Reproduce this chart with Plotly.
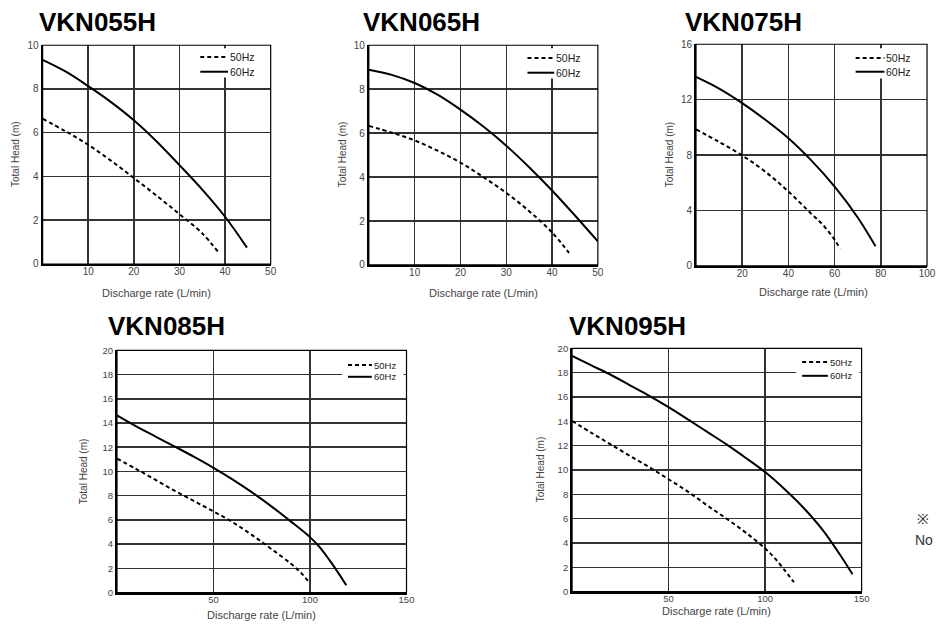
import plotly.graph_objects as go

W, H = 939, 630

# ---------------- data ----------------
models = ["VKN055H", "VKN065H", "VKN075H", "VKN085H", "VKN095H"]
series_names = ["50Hz", "60Hz"]

vkn055_q50 = [0, 5, 10, 15, 20, 25, 30, 35, 38.6]
vkn055_h50 = [6.64, 6.07, 5.45, 4.72, 3.93, 3.12, 2.28, 1.4, 0.52]
vkn055_q60 = [0, 5, 10, 15, 20, 25, 30, 35, 40, 44.8]
vkn055_h60 = [9.33, 8.8, 8.13, 7.4, 6.57, 5.6, 4.52, 3.4, 2.16, 0.75]

vkn065_q50 = [0, 5, 10, 15, 20, 25, 30, 35, 40, 43.7]
vkn065_h50 = [6.33, 6.02, 5.67, 5.2, 4.66, 4.0, 3.28, 2.45, 1.48, 0.55]
vkn065_q60 = [0, 5, 10, 15, 20, 25, 30, 35, 40, 45, 50]
vkn065_h60 = [8.88, 8.65, 8.28, 7.75, 7.07, 6.3, 5.43, 4.45, 3.39, 2.25, 1.07]

vkn075_q50 = [0, 10, 20, 30, 40, 50, 55, 60, 62.3]
vkn075_h50 = [9.86, 8.95, 7.97, 6.8, 5.37, 3.75, 2.95, 1.89, 1.25]
vkn075_q60 = [0, 10, 20, 30, 40, 50, 60, 70, 77.7]
vkn075_h60 = [13.64, 12.8, 11.75, 10.55, 9.22, 7.6, 5.72, 3.5, 1.42]

vkn085_q50 = [0, 10, 20, 30, 40, 50, 60, 70, 80, 90, 95, 100]
vkn085_h50 = [11.06, 10.2, 9.3, 8.4, 7.55, 6.7, 5.8, 4.75, 3.6, 2.4, 1.68, 0.78]
vkn085_q60 = [0, 10, 20, 30, 40, 50, 60, 70, 80, 90, 100, 105, 110, 115, 118.8]
vkn085_h60 = [14.63, 13.72, 12.88, 12.05, 11.2, 10.3, 9.33, 8.27, 7.12, 5.88, 4.58, 3.75, 2.7, 1.55, 0.6]

vkn095_q50 = [0, 10, 20, 30, 40, 50, 60, 70, 80, 90, 100, 105, 110, 114.9]
vkn095_h50 = [14.03, 13.06, 12.1, 11.16, 10.23, 9.24, 8.22, 7.09, 6.0, 4.85, 3.55, 2.75, 1.78, 0.78]
vkn095_q60 = [0, 10, 20, 30, 40, 50, 60, 70, 80, 90, 100, 110, 120, 130, 140, 145.3]
vkn095_h60 = [19.38, 18.6, 17.83, 16.96, 16.1, 15.17, 14.16, 13.13, 12.1, 10.99, 9.83, 8.44, 6.88, 5.04, 2.75, 1.43]

x_ticks_50 = [10, 20, 30, 40, 50]
x_ticks_100 = [20, 40, 60, 80, 100]
x_ticks_150 = [50, 100, 150]
y_ticks_10 = [0, 2, 4, 6, 8, 10]
y_ticks_16 = [0, 4, 8, 12, 16]
y_ticks_20 = [0, 2, 4, 6, 8, 10, 12, 14, 16, 18, 20]

x_axis_title = "Discharge rate (L/min)"
y_axis_title = "Total Head (m)"
note_mark = "※"
note_text = "No"

# ---------------- layout config (pixels) ----------------
# box = (left, right, top, bottom) of plot area
# leg = (sample_start_from_right, sample_end_from_right, y1_from_top, y2_from_top,
#        box_left_from_right, box_right_from_right, box_top, box_bottom, font)
charts = [
    dict(q50=vkn055_q50, h50=vkn055_h50, q60=vkn055_q60, h60=vkn055_h60,
         xr=[0, 50], yr=[0, 10], xt=x_ticks_50, yt=y_ticks_10,
         box=(43, 273, 40, 263), leg=(71, 43, 12, 27, 75, 14, 3, 33, 10.5),
         title=(38, 16), xtitle=(158, 293), ytitle=(15, 151), tf=10),
    dict(q50=vkn065_q50, h50=vkn065_h50, q60=vkn065_q60, h60=vkn065_h60,
         xr=[0, 50], yr=[0, 10], xt=x_ticks_50, yt=y_ticks_10,
         box=(372, 603, 40, 264), leg=(71, 44, 13, 28, 75, 14, 3, 34, 10.5),
         title=(365, 16), xtitle=(488, 293), ytitle=(345, 151), tf=10),
    dict(q50=vkn075_q50, h50=vkn075_h50, q60=vkn075_q60, h60=vkn075_h60,
         xr=[0, 100], yr=[0, 16], xt=x_ticks_100, yt=y_ticks_16,
         box=(702, 935, 39, 265), leg=(72, 43, 14, 28, 76, 14, 4, 35, 10.5),
         title=(690, 16), xtitle=(820, 292), ytitle=(675, 151), tf=10),
    dict(q50=vkn085_q50, h50=vkn085_h50, q60=vkn085_q60, h60=vkn085_h60,
         xr=[0, 150], yr=[0, 20], xt=x_ticks_150, yt=y_ticks_20,
         box=(118, 410, 351, 598), leg=(59, 35, 15, 27, 65, 3, 7, 34, 9.5),
         title=(108, 326), xtitle=(264, 621), ytitle=(85, 474), tf=9.5),
    dict(q50=vkn095_q50, h50=vkn095_h50, q60=vkn095_q60, h60=vkn095_h60,
         xr=[0, 150], yr=[0, 20], xt=x_ticks_150, yt=y_ticks_20,
         box=(577, 869, 349, 597), leg=(60, 34, 14, 28, 66, 2, 6, 35, 9.5),
         title=(573, 326), xtitle=(723, 617), ytitle=(545, 472), tf=9.5),
]

FONT = "Liberation Sans, Arial, sans-serif"
GRID = "#333333"
TXT = "#444444"
DASH = "4px,3px"

fig = go.Figure()
layout = dict(
    width=W, height=H, margin=dict(l=0, r=0, t=0, b=0),
    paper_bgcolor="white", plot_bgcolor="white",
    font=dict(family=FONT, color=TXT, size=10),
    showlegend=False,
)
shapes = []
annotations = []


def px(x):
    return x / W


def py(y):
    return 1 - y / H


for i, c in enumerate(charts):
    n = "" if i == 0 else str(i + 1)
    xa, ya = "x" + n, "y" + n
    x0, x1, y0, y1 = c["box"]
    fig.add_trace(go.Scatter(
        x=c["q50"], y=c["h50"], mode="lines", name=series_names[0],
        line=dict(color="black", width=2, dash=DASH, shape="spline", smoothing=1),
        xaxis=xa, yaxis=ya, hoverinfo="skip"))
    fig.add_trace(go.Scatter(
        x=c["q60"], y=c["h60"], mode="lines", name=series_names[1],
        line=dict(color="black", width=2, shape="spline", smoothing=1),
        xaxis=xa, yaxis=ya, hoverinfo="skip"))

    layout["xaxis" + n] = dict(
        domain=[px(x0), px(x1)], range=c["xr"], anchor=ya,
        tickmode="array", tickvals=c["xt"], ticks="",
        showgrid=True, gridcolor=GRID, gridwidth=1.5,
        showline=True, linecolor="black", linewidth=2,
        zeroline=False, tickfont=dict(size=c["tf"], color=TXT),
        ticklabelstandoff=-3,
        fixedrange=True)
    layout["yaxis" + n] = dict(
        domain=[py(y1), py(y0)], range=c["yr"], anchor=xa,
        tickmode="array", tickvals=c["yt"], ticks="",
        showgrid=True, gridcolor=GRID, gridwidth=1.5,
        showline=True, linecolor="black", linewidth=2,
        zeroline=False, tickfont=dict(size=c["tf"], color=TXT),
        fixedrange=True)
    shapes.append(dict(type="rect", xref="paper", yref="paper",
                       x0=px(x0), x1=px(x1), y0=py(y1), y1=py(y0),
                       line=dict(color="black", width=1.2), layer="above"))

    # legend (white box with line samples and labels)
    s0, s1, ly1, ly2, b0, b1, bt, bb, lf = c["leg"]
    shapes.append(dict(type="rect", xref="paper", yref="paper",
                       x0=px(x1 - b0), x1=px(x1 - b1), y0=py(y0 + bb), y1=py(y0 + bt),
                       fillcolor="white", line=dict(width=0), layer="above"))
    for k, (ly, dash) in enumerate([(ly1, DASH), (ly2, "solid")]):
        shapes.append(dict(type="line", xref="paper", yref="paper",
                           x0=px(x1 - s0), x1=px(x1 - s1), y0=py(y0 + ly), y1=py(y0 + ly),
                           line=dict(color="black", width=2, dash=dash), layer="above"))
        annotations.append(dict(text=series_names[k], x=px(x1 - s1 + 1), y=py(y0 + ly),
                                xref="paper", yref="paper", xanchor="left", yanchor="middle",
                                showarrow=False, borderpad=0,
                                font=dict(size=lf, color="#222")))

    tx, ty = c["title"]
    annotations.append(dict(text="<b>%s</b>" % models[i], x=px(tx), y=py(ty),
                            xref="paper", yref="paper", xanchor="left", yanchor="middle",
                            showarrow=False, borderpad=0,
                            font=dict(size=26, color="black", family=FONT)))
    xx, xy = c["xtitle"]
    annotations.append(dict(text=x_axis_title, x=px(xx), y=py(xy),
                            xref="paper", yref="paper", xanchor="center", yanchor="middle",
                            showarrow=False, font=dict(size=11, color=TXT)))
    yx, yy = c["ytitle"]
    annotations.append(dict(text=y_axis_title, x=px(yx), y=py(yy), textangle=-90,
                            xref="paper", yref="paper", xanchor="center", yanchor="middle",
                            showarrow=False, font=dict(size=10, color=TXT)))

annotations.append(dict(text=note_mark, x=px(924), y=py(523), xref="paper", yref="paper",
                        xanchor="left", yanchor="middle", showarrow=False, borderpad=0,
                        font=dict(size=14, color="#333")))
annotations.append(dict(text=note_text, x=px(922), y=py(544), xref="paper", yref="paper",
                        xanchor="left", yanchor="middle", showarrow=False, borderpad=0,
                        font=dict(size=14, color="#333")))

layout["shapes"] = shapes
layout["annotations"] = annotations
fig.update_layout(**layout)
fig.write_html(
    "out.html",
    config={"displayModeBar": False, "staticPlot": True},
    post_script="document.body.style.margin='0';document.body.style.overflow='hidden';",
)
